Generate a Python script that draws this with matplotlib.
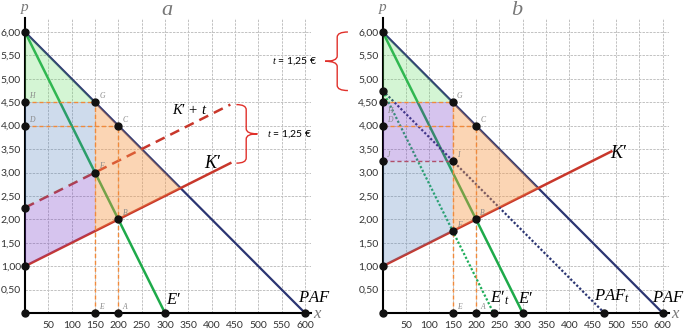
import matplotlib
matplotlib.use("Agg")
import matplotlib.pyplot as plt
from matplotlib.path import Path
from matplotlib.patches import PathPatch

plt.rcParams['font.family'] = ['Lato', 'DejaVu Sans']
plt.rcParams['mathtext.fontset'] = 'custom'
plt.rcParams['mathtext.it'] = 'Liberation Serif:italic'
plt.rcParams['mathtext.rm'] = 'Liberation Serif'

# ---------------- data ----------------
x_ticks = [50, 100, 150, 200, 250, 300, 350, 400, 450, 500, 550, 600]
x_tick_labels = [str(v) for v in x_ticks]
y_ticks = [0.5, 1.0, 1.5, 2.0, 2.5, 3.0, 3.5, 4.0, 4.5, 5.0, 5.5, 6.0]
y_tick_labels = ["0,50", "1,00", "1,50", "2,00", "2,50", "3,00",
                 "3,50", "4,00", "4,50", "5,00", "5,50", "6,00"]
tax = 1.25

# panel a
paf_x = [0, 600];   paf_p = [6.0, 0.0]
mr_x = [0, 300];    mr_p = [6.0, 0.0]
mc_a_x = [0, 440];  mc_a_p = [1.0, 3.2]
mct_x = [0, 440];   mct_p = [2.25, 4.45]
# panel b
mc_b_x = [0, 490];  mc_b_p = [1.0, 3.45]
paft_x = [0, 475];  paft_p = [4.75, 0.0]
mrt_x = [0, 237.5]; mrt_p = [4.75, 0.0]

# areas (polygon vertices)
green_poly = [(0, 6.0), (150, 4.5), (0, 4.5)]
orange_poly = [(150, 4.5), (333.3, 2.667), (150, 1.75)]
blue_a_poly = [(0, 4.5), (150, 4.5), (150, 3.0), (0, 2.25)]
purple_a_poly = [(0, 2.25), (150, 3.0), (150, 1.75), (0, 1.0)]
purple_b_poly = [(0, 4.5), (150, 4.5), (150, 3.25), (0, 3.25)]
blue_b_poly = [(0, 3.25), (150, 3.25), (150, 1.75), (0, 1.0)]

# named points
pts_a = {"H": (0, 4.5), "G": (150, 4.5), "D": (0, 4.0), "C": (200, 4.0),
         "F": (150, 3.0), "B": (200, 2.0), "E": (150, 0), "A": (200, 0)}
extra_a = [(0, 6.0), (0, 2.25), (0, 1.0), (0, 0), (300, 0), (600, 0)]
pts_b = {"G": (150, 4.5), "C": (200, 4.0), "D": (0, 4.0), "J": (0, 3.25),
         "I": (150, 3.25), "F": (150, 1.75), "B": (200, 2.0),
         "E": (150, 0), "A": (200, 0)}
extra_b = [(0, 6.0), (0, 4.75), (0, 4.5), (0, 1.0), (0, 0),
           (237.5, 0), (300, 0), (475, 0), (600, 0)]

# guides (dashed)
guides = [([0, 150], [4.5, 4.5]), ([0, 200], [4.0, 4.0]),
          ([150, 150], [0, 4.5]), ([200, 200], [0, 4.0])]
guide_ji = ([0, 150], [3.25, 3.25])

# ---------------- style ----------------
NAVY = '#2b3572'
GREEN = '#1eaa4a'
RED = '#c8372b'
ORANGE = '#f08a3c'
GRAY = '#777777'

fig = plt.figure(figsize=(6.85, 3.32), dpi=100)
W, H = 685.0, 332.0
xmax, ymax = 613, 6.3
aw = xmax * (280 / 600) / W
ah = ymax * (281 / 6) / H
axa = fig.add_axes([25 / W, 19 / H, aw, ah])
axb = fig.add_axes([382.7 / W, 19 / H, aw, ah])


def base(ax):
    ax.set_xlim(0, xmax)
    ax.set_ylim(0, ymax)
    for s in ['top', 'right']:
        ax.spines[s].set_visible(False)
    for s in ['left', 'bottom']:
        ax.spines[s].set_linewidth(1.5)
        ax.spines[s].set_color('black')
    ax.set_xticks(x_ticks)
    ax.set_xticklabels(x_tick_labels)
    ax.set_yticks(y_ticks)
    ax.set_yticklabels(y_tick_labels)
    ax.tick_params(length=0, labelsize=7.5, colors='#333333')
    ax.tick_params(axis='x', pad=6)
    ax.tick_params(axis='y', pad=3)
    ax.grid(True, color='#c2c2c2', linestyle=(0, (2.5, 1.2)), linewidth=0.7)
    ax.set_axisbelow(True)
    ax.text(xmax + 14, 0, '$x$', fontsize=12, color=GRAY, ha='center',
            va='center', clip_on=False)


def brace(ax, x, y0, y1, e, w, r, direction):
    ym = (y0 + y1) / 2
    d = direction
    verts = [(x - d * e, y1), (x, y1), (x, y1 - r),
             (x, ym + r), (x, ym), (x + d * w, ym),
             (x, ym), (x, ym - r),
             (x, y0 + r), (x, y0), (x - d * e, y0)]
    codes = [Path.MOVETO, Path.CURVE3, Path.CURVE3,
             Path.LINETO, Path.CURVE3, Path.CURVE3,
             Path.CURVE3, Path.CURVE3,
             Path.LINETO, Path.CURVE3, Path.CURVE3]
    ax.add_patch(PathPatch(Path(verts, codes), fill=False, edgecolor='#e0302a',
                           linewidth=1.0, clip_on=False, zorder=6))


def dots(ax, pts):
    xs = [p[0] for p in pts]
    ys = [p[1] for p in pts]
    ax.plot(xs, ys, 'o', color='#111111', ms=5, zorder=8, clip_on=False)


def label_pts(ax, d, below=()):
    for k, (px, py) in d.items():
        dy = -8 if k in below else 3
        ax.annotate(k, (px, py), xytext=(3, dy), textcoords='offset points',
                    fontsize=5.5, color='#888888', style='italic',
                    family='Liberation Serif', zorder=9)


base(axa)
base(axb)

# titles and p labels
for cx, title in [(167, 'a'), (517, 'b')]:
    fig.text(cx / W, 1 - 9 / H, '$' + title + '$', fontsize=16, color=GRAY,
             ha='center', va='center')
for cx in [25, 382.7]:
    fig.text(cx / W, 1 - 2 / H, '$p$', fontsize=11, color=GRAY,
             ha='center', va='top')

# ---------- panel a ----------
axa.plot(paf_x, paf_p, color=NAVY, lw=1.6, zorder=2)
axa.plot(mr_x, mr_p, color=GREEN, lw=1.8, zorder=2)
axa.plot(mc_a_x, mc_a_p, color=RED, lw=1.8, zorder=2)
axa.plot(mct_x, mct_p, color=RED, lw=1.8, ls=(0, (4, 2.5)), zorder=2)

axa.fill([p[0] for p in green_poly], [p[1] for p in green_poly],
         color=(0.39, 0.86, 0.39), alpha=0.27, lw=0, zorder=3)
axa.fill([p[0] for p in blue_a_poly], [p[1] for p in blue_a_poly],
         color=(0.31, 0.5, 0.74), alpha=0.28, lw=0, zorder=3)
axa.fill([p[0] for p in purple_a_poly], [p[1] for p in purple_a_poly],
         color=(0.47, 0.24, 0.78), alpha=0.30, lw=0, zorder=3)
axa.fill([p[0] for p in orange_poly], [p[1] for p in orange_poly],
         color=(0.97, 0.59, 0.27), alpha=0.40, lw=0, zorder=3)

for gx, gy in guides:
    axa.plot(gx, gy, color=ORANGE, lw=1.0, ls=(0, (3, 2)), zorder=4)

dots(axa, list(pts_a.values()) + extra_a)
label_pts(axa, pts_a)

axa.text(302, 0.12, "$E′$", fontsize=12, ha='left', va='bottom')
axa.text(620, 0.18, "$PAF$", fontsize=12, ha='center', va='bottom',
         clip_on=False)
axa.text(403, 3.22, "$K′$", fontsize=13, ha='center', va='center')
axa.text(353, 4.33, r"$K′\,+\,t$", fontsize=10.5, ha='center', va='center')

# braces & tax text
brace(axa, 474, mc_a_p[1], mct_p[1], 21, 24, 0.11, +1)
axa.text(518, (mc_a_p[1] + mct_p[1]) / 2, '$t$ = 1,25 €', fontsize=7.5,
         ha='left', va='center', clip_on=False, zorder=6)
brace(axa, 669, 6.0 - tax, 6.0, 23, 26, 0.11, -1)
axa.text(626, 6.0 - tax / 2, '$t$ = 1,25 €', fontsize=7.5,
         ha='right', va='center', clip_on=False, zorder=6)

# ---------- panel b ----------
axb.plot(paf_x, paf_p, color=NAVY, lw=1.6, zorder=2)
axb.plot(mr_x, mr_p, color=GREEN, lw=1.8, zorder=2)
axb.plot(mc_b_x, mc_b_p, color=RED, lw=1.8, zorder=2)
axb.plot(paft_x, paft_p, color=NAVY, lw=1.6, ls=(0, (1, 0.9)), zorder=2)
axb.plot(mrt_x, mrt_p, color='#1fae5a', lw=1.6, ls=(0, (1, 0.9)), zorder=2)

axb.fill([p[0] for p in green_poly], [p[1] for p in green_poly],
         color=(0.39, 0.86, 0.39), alpha=0.27, lw=0, zorder=3)
axb.fill([p[0] for p in purple_b_poly], [p[1] for p in purple_b_poly],
         color=(0.47, 0.24, 0.78), alpha=0.30, lw=0, zorder=3)
axb.fill([p[0] for p in blue_b_poly], [p[1] for p in blue_b_poly],
         color=(0.31, 0.5, 0.74), alpha=0.28, lw=0, zorder=3)
axb.fill([p[0] for p in orange_poly], [p[1] for p in orange_poly],
         color=(0.97, 0.59, 0.27), alpha=0.40, lw=0, zorder=3)

for gx, gy in guides:
    axb.plot(gx, gy, color=ORANGE, lw=1.0, ls=(0, (3, 2)), zorder=4)
axb.plot(guide_ji[0], guide_ji[1], color='#b0506a', lw=1.0, ls=(0, (3, 2)),
         zorder=4)

dots(axb, list(pts_b.values()) + extra_b)
label_pts(axb, pts_b)
label_pts(axb, {"H": (0, 4.5)}, below=("H",))

axb.text(252, 0.12, "$E′_t$", fontsize=12, ha='center', va='bottom')
axb.text(307, 0.14, "$E′$", fontsize=12, ha='center', va='bottom')
axb.text(491, 0.18, "$PAF_t$", fontsize=12, ha='center', va='bottom')
axb.text(613, 0.18, "$PAF$", fontsize=12, ha='center', va='bottom',
         clip_on=False)
axb.text(505, 3.42, "$K′$", fontsize=13, ha='center', va='center')

fig.savefig("out.png", dpi=100)
